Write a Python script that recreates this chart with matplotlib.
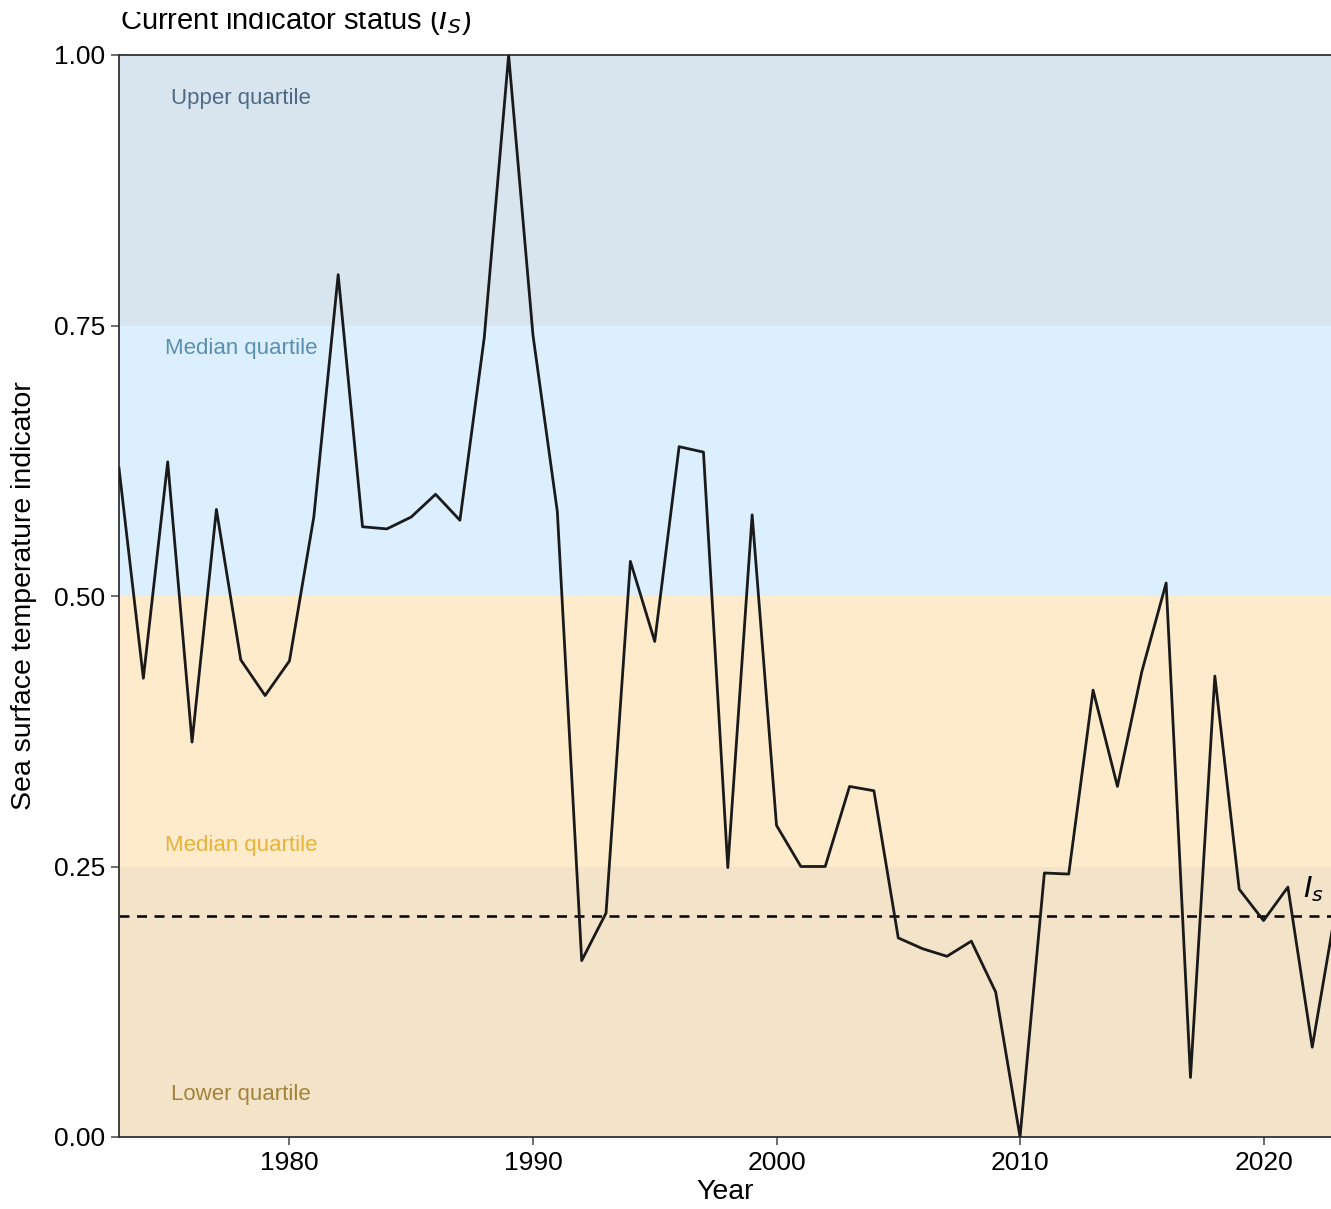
import matplotlib
matplotlib.use("Agg")
import matplotlib.pyplot as plt
from matplotlib.patches import Rectangle

years = list(range(1973, 2024))
values = [0.618, 0.424, 0.624, 0.365, 0.580, 0.441, 0.408, 0.440, 0.573, 0.797,
          0.564, 0.562, 0.573, 0.594, 0.570, 0.739, 1.000, 0.741, 0.578, 0.163,
          0.207, 0.532, 0.458, 0.638, 0.633, 0.249, 0.575, 0.288, 0.250, 0.250,
          0.324, 0.320, 0.184, 0.174, 0.167, 0.181, 0.134, 0.000, 0.244, 0.243,
          0.413, 0.324, 0.430, 0.512, 0.055, 0.426, 0.229, 0.200, 0.231, 0.083,
          0.215]
current_status = 0.204

band_edges = [0.0, 0.25, 0.5, 0.75, 1.0]
band_colors = ["#f3e4c9", "#fdebcb", "#dcefff", "#d9e5ee"]
band_labels = ["Lower quartile", "Median quartile", "Median quartile", "Upper quartile"]
band_label_y = [0.039, 0.269, 0.729, 0.960]
band_label_colors = ["#a3823a", "#e7b23a", "#5b8fb0", "#4d6a85"]

plt.rcParams['font.family'] = ['Liberation Sans', 'DejaVu Sans']

fig = plt.figure(figsize=(13.31, 12.09), dpi=100)
ax = fig.add_axes([119/1331, 1-1137/1209, 1-119/1331, (1137-55)/1209])

xmin, xmax = 1973, 2022.77
for i in range(4):
    ax.axhspan(band_edges[i], band_edges[i+1], color=band_colors[i], lw=0, zorder=0)
    ax.text(1978, band_label_y[i], band_labels[i], color=band_label_colors[i],
            fontsize=16, ha='center', va='center')

ax.plot(years, values, color='#1a1a1a', lw=2.0, zorder=3)
ax.axhline(current_status, color='black', ls=(0, (4, 3)), lw=1.8, zorder=2)
ax.text(2022.05, 0.222, r'$I_s$', fontsize=21, ha='center', va='baseline')

ax.set_xlim(xmin, xmax)
ax.set_ylim(0, 1)
ax.set_xticks([1980, 1990, 2000, 2010, 2020])
ax.set_yticks([0, 0.25, 0.5, 0.75, 1.0])
ax.set_yticklabels(['0.00', '0.25', '0.50', '0.75', '1.00'])
ax.tick_params(axis='both', labelsize=19, length=6, width=1.2, color='#555555',
               labelcolor='black', direction='out', pad=4)
for s in ['left', 'bottom', 'top']:
    ax.spines[s].set_color('#333333')
    ax.spines[s].set_linewidth(1.3)
ax.spines['right'].set_visible(False)

ax.set_xlabel('Year', fontsize=20.5, labelpad=3)
ax.set_ylabel('Sea surface temperature indicator', fontsize=20.5, labelpad=12)

fig.text(120/1331, 1-29/1209, r'Current indicator status ($I_S$)', fontsize=21,
         ha='left', va='baseline')
# top of the reference image crops the title slightly
fig.patches.append(Rectangle((0, 1-12/1209), 1, 12/1209, transform=fig.transFigure,
                             facecolor='white', edgecolor='none', zorder=10))

fig.savefig('out.png', dpi=100)
